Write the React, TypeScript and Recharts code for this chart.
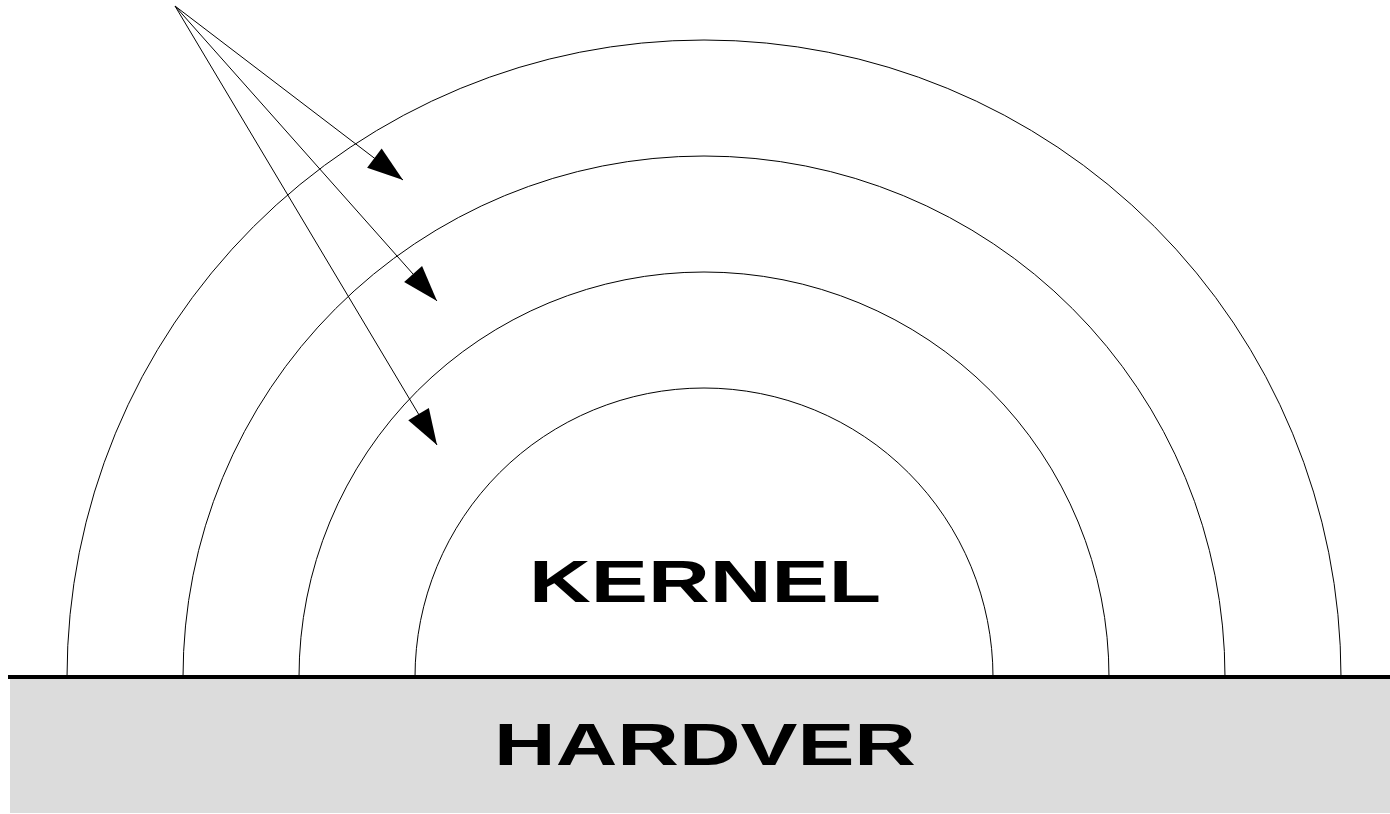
import React from 'react';
import {
  PieChart,
  Pie,
  ComposedChart,
  Line,
  XAxis,
  YAxis,
  ReferenceArea,
  ReferenceLine,
  ReferenceDot,
} from 'recharts';

const W = 1390;
const H = 814;

// rings, outer to inner (radius in px)
const ringNames = ['outer', 'second', 'third', 'inner'];
const ringRadii = [637, 521, 405, 289];
const ringCenterX = 704;
const baseY = 677;

// arrows all start from one point
const arrowFromX = 175;
const arrowFromY = 6;
const arrowTipX = [403, 437, 437];
const arrowTipY = [180, 301, 445];

const labelTexts = ['KERNEL', 'HARDVER'];
const labelX = [705, 705];
const labelY = [602, 765];
const labelLength = [352, 422];

const arrowData = arrowTipX.map((tx, i) => [
  { x: arrowFromX, y: arrowFromY },
  { x: tx, y: arrowTipY[i] },
]);

const headLen = 36;
const headHalf = 12;

const makeHead = (i: number) => (props: any) => {
  const { cx, cy, index } = props;
  if (index !== 1 || cx == null) return <g key={`h-${i}-${index}`} />;
  const dx = arrowTipX[i] - arrowFromX;
  const dy = arrowTipY[i] - arrowFromY;
  const len = Math.sqrt(dx * dx + dy * dy);
  const ux = dx / len;
  const uy = dy / len;
  const bx = cx - ux * headLen;
  const by = cy - uy * headLen;
  const pts = [
    [cx, cy],
    [bx - uy * headHalf, by + ux * headHalf],
    [bx + uy * headHalf, by - ux * headHalf],
  ]
    .map((p) => p.join(','))
    .join(' ');
  return <polygon key={`h-${i}-${index}`} points={pts} fill="#000" stroke="none" />;
};

const labelShape = (i: number) => (props: any) => (
  <text
    x={props.cx}
    y={props.cy}
    textAnchor="middle"
    fontFamily="'Liberation Sans', Arial, sans-serif"
    fontWeight="bold"
    fontSize={59}
    fill="#000"
    textLength={labelLength[i]}
    lengthAdjust="spacingAndGlyphs"
  >
    {labelTexts[i]}
  </text>
);

export default function App() {
  return (
    <div style={{ position: 'absolute', left: 0, top: 0, width: W, height: H, background: '#fff' }}>
      <div style={{ position: 'absolute', left: 0, top: 0 }}>
        <PieChart width={W} height={H} margin={{ top: 0, right: 0, bottom: 0, left: 0 }}>
          {ringNames.map((name, i) => (
            <Pie
              key={name}
              data={[{ name, value: 1 }]}
              dataKey="value"
              cx={ringCenterX}
              cy={baseY}
              startAngle={180}
              endAngle={0}
              innerRadius={0}
              outerRadius={ringRadii[i]}
              fill="none"
              stroke="#000"
              strokeWidth={1}
              isAnimationActive={false}
            />
          ))}
        </PieChart>
      </div>
      <div style={{ position: 'absolute', left: 0, top: 0 }}>
        <ComposedChart width={W} height={H} margin={{ top: 0, right: 0, bottom: 0, left: 0 }}>
          <XAxis type="number" dataKey="x" domain={[0, W]} hide allowDataOverflow />
          <YAxis type="number" dataKey="y" domain={[0, H]} reversed hide allowDataOverflow />
          <ReferenceArea
            x1={10}
            x2={W}
            y1={679}
            y2={813}
            fill="#dcdcdc"
            fillOpacity={1}
            stroke="none"
          />
          <ReferenceLine
            segment={[
              { x: 8, y: baseY },
              { x: W, y: baseY },
            ]}
            stroke="#000"
            strokeWidth={4}
          />
          {arrowData.map((d, i) => (
            <Line
              key={`arrow-${i}`}
              data={d}
              dataKey="y"
              type="linear"
              stroke="#000"
              strokeWidth={1}
              dot={makeHead(i)}
              activeDot={false}
              isAnimationActive={false}
            />
          ))}
          {labelTexts.map((t, i) => (
            <ReferenceDot key={t} x={labelX[i]} y={labelY[i]} r={0} shape={labelShape(i)} />
          ))}
        </ComposedChart>
      </div>
    </div>
  );
}
